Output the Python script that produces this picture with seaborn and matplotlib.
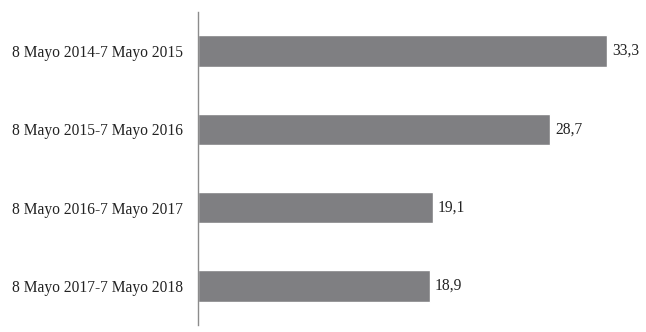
import matplotlib
matplotlib.use("Agg")
import matplotlib.pyplot as plt
import seaborn as sns
import pandas as pd

periodos = ['8 Mayo 2014-7 Mayo 2015', '8 Mayo 2015-7 Mayo 2016',
            '8 Mayo 2016-7 Mayo 2017', '8 Mayo 2017-7 Mayo 2018']
valores = [33.3, 28.7, 19.1, 18.9]

df = pd.DataFrame({'periodo': periodos, 'valor': valores})

sns.set_style('white')
plt.rcParams['font.family'] = ['Liberation Serif', 'DejaVu Serif']

fig = plt.figure(figsize=(6.46, 3.32), dpi=100)
ax = fig.add_axes([198 / 646, 7 / 332, 448 / 646, 313 / 332])

sns.barplot(data=df, x='valor', y='periodo', color='#7f7f82', width=0.4,
            saturation=1, ax=ax)

ax.set_xlim(0, 448 / 12.28)
ax.set_ylim(3.5, -0.5)
ax.set_xlabel('')
ax.set_ylabel('')
ax.set_xticks([])
ax.tick_params(axis='y', length=0, pad=11, labelsize=11.2, labelcolor='#222222')

for s in ['top', 'right', 'bottom']:
    ax.spines[s].set_visible(False)
ax.spines['left'].set_color('#8c8c8c')
ax.spines['left'].set_linewidth(1.0)

ax.bar_label(ax.containers[0], labels=[f'{v:.1f}'.replace('.', ',') for v in valores],
             padding=3.5, fontsize=11.2, color='#222222')

plt.savefig('out.png', dpi=100)
